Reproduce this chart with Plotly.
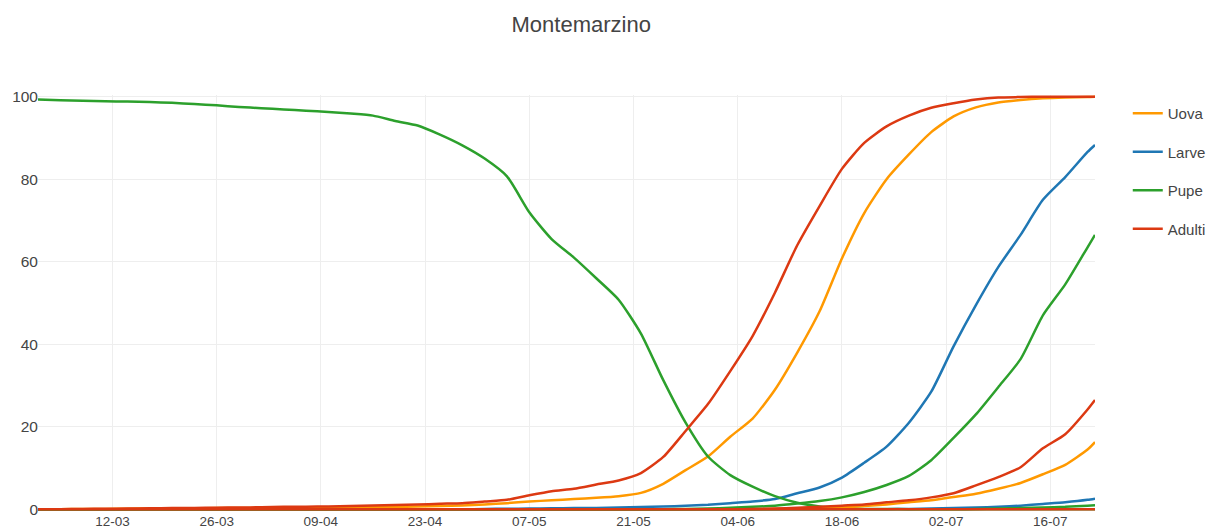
import pandas as pd
import plotly.graph_objects as go

# sampling dates (every 3 days from 2 March, plus the last day 22 July)
DATES = list(pd.date_range("2017-03-02", "2017-07-21", freq="3D").strftime("%Y-%m-%d")) + ["2017-07-22"]

# ---- first generation ----
UOVA_1 = [0.0, 0.05, 0.1, 0.1, 0.15, 0.2, 0.2, 0.25, 0.3, 0.3, 0.35, 0.4, 0.45, 0.5, 0.5, 0.55,
          0.6, 0.7, 0.8, 0.95, 1.2, 1.5, 1.9, 2.2, 2.5, 2.8, 3.2, 4.0, 6.2, 9.5, 12.8, 17.6,
          22.0, 29.0, 38.0, 48.0, 60.8, 71.8, 80.0, 86.0, 91.4, 95.2, 97.4, 98.6, 99.2, 99.6,
          99.8, 99.9, 100.0]
LARVE_1 = [0.0] * 20 + [0.1, 0.15, 0.2, 0.25, 0.3, 0.35, 0.45, 0.55, 0.7, 0.85, 1.1, 1.5, 1.9,
          2.5, 3.9, 5.3, 7.7, 11.3, 15.2, 21.0, 28.5, 39.5, 49.5, 58.7, 66.5, 75.0, 80.5, 86.6, 88.3]
PUPE_1 = [99.3, 99.1, 99.0, 98.9, 98.8, 98.7, 98.5, 98.2, 97.9, 97.5, 97.2, 96.9, 96.6, 96.3,
          95.9, 95.4, 94.1, 93.0, 90.8, 88.2, 85.0, 80.7, 72.0, 65.5, 61.0, 56.0, 50.8, 42.6,
          31.3, 21.0, 12.8, 8.3, 5.5, 3.2, 1.6, 0.7, 0.3, 0.1, 0.1, 0.05, 0.05, 0.0, 0.0, 0.0,
          0.0, 0.0, 0.0, 0.0, 0.0]
ADULTI_1 = [0.0, 0.05, 0.1, 0.15, 0.2, 0.25, 0.3, 0.35, 0.4, 0.45, 0.5, 0.6, 0.65, 0.7, 0.8, 0.95,
            1.05, 1.15, 1.35, 1.5, 1.9, 2.3, 3.4, 4.4, 5.0, 6.0, 7.0, 8.8, 12.7, 19.0, 25.5, 33.5,
            42.0, 52.5, 64.0, 73.5, 82.5, 88.8, 92.8, 95.4, 97.3, 98.4, 99.3, 99.8, 99.9, 100.0,
            100.0, 100.0, 100.0]

# ---- second generation ----
UOVA_2 = [0.0] * 33 + [0.1, 0.2, 0.3, 0.5, 0.8, 1.2, 1.7, 2.2, 3.0, 3.8, 5.0, 6.4, 8.5, 10.8, 14.5, 16.3]
LARVE_2 = [0.0] * 38 + [0.05, 0.1, 0.2, 0.3, 0.45, 0.6, 0.9, 1.3, 1.7, 2.3, 2.6]
PUPE_2 = [0.0] * 28 + [0.05, 0.1, 0.2, 0.4, 0.6, 0.9, 1.4, 2.0, 2.9, 4.2, 5.9, 8.1, 11.9, 17.3,
          23.0, 29.6, 36.4, 47.0, 54.5, 63.5, 66.5]
ADULTI_2 = [0.0] * 32 + [0.1, 0.2, 0.4, 0.6, 0.9, 1.2, 1.7, 2.2, 2.9, 3.9, 5.8, 7.8, 10.2, 14.8,
            18.2, 24.2, 26.5]

# ---- third generation ----
PUPE_3 = [0.0] * 42 + [0.1, 0.2, 0.3, 0.45, 0.6, 0.9, 1.0]
ADULTI_3 = [0.0] * 49

COLORS = {"Uova": "#FF9900", "Larve": "#1F77B4", "Pupe": "#2CA02C", "Adulti": "#DC3912"}

SERIES = [
    ("Uova", UOVA_1, True), ("Larve", LARVE_1, True), ("Pupe", PUPE_1, True), ("Adulti", ADULTI_1, True),
    ("Uova", UOVA_2, False), ("Larve", LARVE_2, False), ("Pupe", PUPE_2, False), ("Adulti", ADULTI_2, False),
    ("Pupe", PUPE_3, False), ("Adulti", ADULTI_3, False),
]

fig = go.Figure()
for stage, vals, show in SERIES:
    fig.add_trace(go.Scatter(
        x=DATES, y=vals, mode="lines", name=stage,
        legendgroup=stage, showlegend=show,
        line=dict(color=COLORS[stage], width=2.5, shape="spline", smoothing=0.6),
        hoverinfo="x+y+name",
    ))

FONT = "Liberation Sans, Arial, sans-serif"
fig.update_layout(
    width=1216, height=527,
    margin=dict(l=38, r=121, t=95, b=16, autoexpand=False),
    paper_bgcolor="white", plot_bgcolor="white",
    font=dict(family=FONT, color="#444", size=14),
    title=dict(text="Montemarzino", x=0.478, xref="container", xanchor="center",
               y=0.954, yref="container", yanchor="middle",
               font=dict(family=FONT, size=22, color="#444")),
    showlegend=True,
    legend=dict(x=1.031, xanchor="left", y=0.995, yanchor="top",
                font=dict(family=FONT, size=15, color="#444"),
                tracegroupgap=16, traceorder="grouped"),
    xaxis=dict(range=["2017-03-02", "2017-07-22"], type="date", automargin=False,
               tick0="2017-03-12", dtick=14 * 24 * 3600 * 1000, tickformat="%d-%m",
               showgrid=True, gridcolor="#eeeeee", gridwidth=1,
               zeroline=False, showline=False, ticks="",
               tickfont=dict(family=FONT, size=13.5, color="#444")),
    yaxis=dict(range=[-0.4, 100.4], tickvals=[0, 20, 40, 60, 80, 100], automargin=False,
               showgrid=True, gridcolor="#eeeeee", gridwidth=1,
               zeroline=False, showline=False, ticks="", ticklabelstandoff=-1,
               tickfont=dict(family=FONT, size=15.5, color="#444")),
)

fig.write_html("out.html", config={"displayModeBar": False},
               post_script="document.body.style.margin='0';")
